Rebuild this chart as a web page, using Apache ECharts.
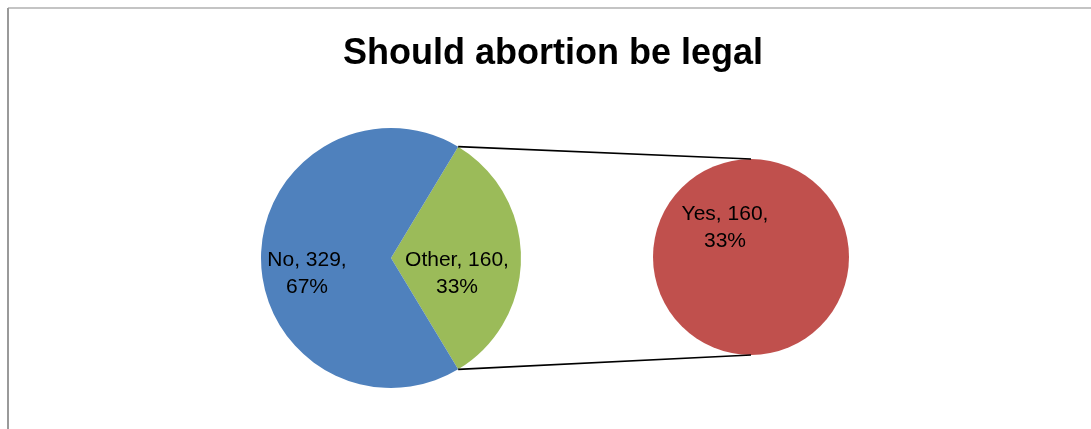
<!DOCTYPE html>
<html>
<head>
<meta charset="utf-8">
<title>Should abortion be legal</title>
<script src="https://cdn.jsdelivr.net/npm/echarts@6/dist/echarts.min.js"></script>
<style>
  html, body { margin: 0; padding: 0; background: #ffffff; }
  #chart { width: 1091px; height: 429px; }
</style>
</head>
<body>
<div id="chart"></div>
<script>
// Survey answers: the main pie splits "No" from the grouped "Other" answers,
// and the secondary pie breaks "Other" down into its members.
const mainCategories = ['Other', 'No'];
const mainValues = [160, 329];
const splitCategories = ['Yes'];
const splitValues = [160];

const TITLE = 'Should abortion be legal';
const FONT = '"Liberation Sans", Arial, sans-serif';

const colors = { No: '#4F81BD', Other: '#9BBB59', Yes: '#C0504D' };
const labelOffsets = { No: [-16, 16], Other: [-2, 16] };

// geometry of the two pies
const mainCenter = [391, 258];
const mainRadius = 130;
const splitCenter = [751, 257];
const splitRadius = 98;

const total = mainValues.reduce((a, b) => a + b, 0);
const pct = v => Math.round(v / total * 100) + '%';
const fmt = p => p.name + ', ' + p.value + ',\n' + pct(p.value);

// "Other" slice is centred on the 3 o'clock direction
const otherSweep = mainValues[0] / total * 360;
const startAngle = otherSweep / 2;

const labelStyle = {
  color: '#000000',
  fontFamily: FONT,
  fontSize: 21,
  lineHeight: 27,
  align: 'center'
};

const chart = echarts.init(document.getElementById('chart'), null, { renderer: 'canvas' });

// connector lines from the edges of the "Other" slice to the secondary pie
const a = startAngle * Math.PI / 180;
const topMain = [mainCenter[0] + mainRadius * Math.cos(a), mainCenter[1] - mainRadius * Math.sin(a)];
const botMain = [mainCenter[0] + mainRadius * Math.cos(a), mainCenter[1] + mainRadius * Math.sin(a)];
const topSplit = [splitCenter[0], splitCenter[1] - splitRadius];
const botSplit = [splitCenter[0], splitCenter[1] + splitRadius];

chart.setOption({
  backgroundColor: '#ffffff',
  animation: false,
  title: {
    text: TITLE,
    left: 548,
    textAlign: 'center',
    top: 31,
    textStyle: { fontFamily: FONT, fontSize: 36, fontWeight: 'bold', color: '#000000' }
  },
  graphic: [
    { type: 'line', shape: { x1: 8, y1: 8, x2: 1091, y2: 8 }, style: { stroke: '#c4c4c4', lineWidth: 2 } },
    { type: 'line', shape: { x1: 8, y1: 8, x2: 8, y2: 429 }, style: { stroke: '#9a9a9a', lineWidth: 2 } },
    { type: 'line', z: 10, shape: { x1: topMain[0], y1: topMain[1], x2: topSplit[0], y2: topSplit[1] }, style: { stroke: '#000000', lineWidth: 1.75 } },
    { type: 'line', z: 10, shape: { x1: botMain[0], y1: botMain[1], x2: botSplit[0], y2: botSplit[1] }, style: { stroke: '#000000', lineWidth: 1.75 } }
  ],
  series: [
    {
      type: 'pie',
      center: mainCenter,
      radius: mainRadius,
      startAngle: startAngle,
      clockwise: true,
      silent: true,
      label: Object.assign({ position: 'inside', formatter: fmt }, labelStyle),
      labelLine: { show: false },
      data: mainCategories.map((c, i) => ({
        name: c,
        value: mainValues[i],
        itemStyle: { color: colors[c] },
        label: { offset: labelOffsets[c] }
      }))
    },
    {
      type: 'pie',
      center: splitCenter,
      radius: splitRadius,
      silent: true,
      label: Object.assign({ position: 'center', offset: [-26, -29], formatter: fmt }, labelStyle),
      labelLine: { show: false },
      data: splitCategories.map((c, i) => ({
        name: c,
        value: splitValues[i],
        itemStyle: { color: colors[c] }
      }))
    }
  ]
});
</script>
</body>
</html>
